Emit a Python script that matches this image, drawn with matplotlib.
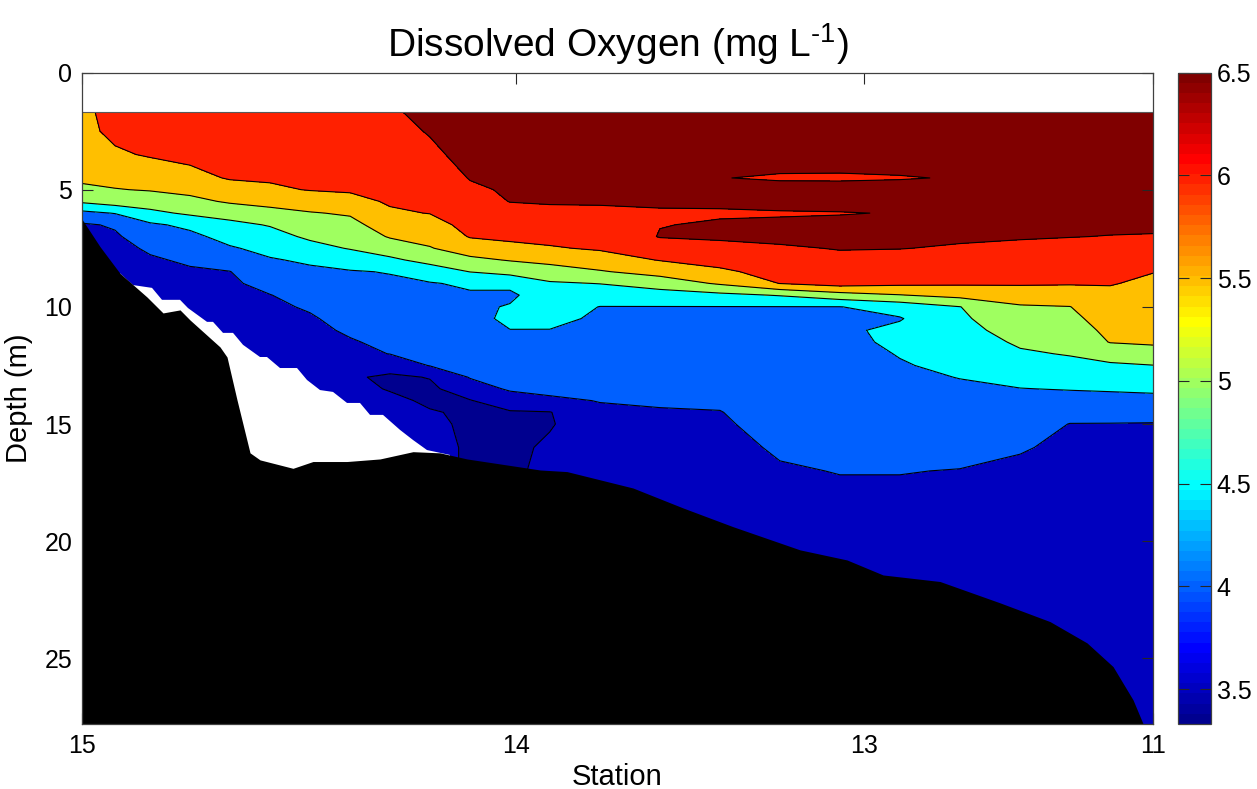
import numpy as np
import matplotlib
matplotlib.use("Agg")
import matplotlib.pyplot as plt
from matplotlib.colors import ListedColormap, Normalize
from matplotlib.cm import ScalarMappable

plt.rcParams['font.family'] = ['Liberation Sans', 'DejaVu Sans']
plt.rcParams['mathtext.fontset'] = 'custom'
plt.rcParams['mathtext.rm'] = 'Liberation Sans'
plt.rcParams['mathtext.default'] = 'regular'

# ---------------------------------------------------------------- data
# depth of each grid row (m)
depth_m = [1.7, 2.5, 3.5, 4.5, 5.0, 5.5, 6.0, 6.5, 7.0, 7.5, 8.0, 8.5, 9.0, 9.5,
           10.0, 10.5, 11.0, 11.5, 12.0, 12.5, 13.0, 13.5, 14.0, 14.5, 15.0,
           16.0, 17.0, 18.0, 20.0, 23.0, 28.0]

# along-transect distance of each profile (km from station 15)
distance_km = [0.0, 0.77, 1.59, 2.52, 3.45, 4.39, 5.32, 6.26, 7.19, 8.12, 9.06,
               9.99, 10.92, 12.09, 13.49, 14.89, 16.29, 17.69, 19.09, 20.49,
               21.90, 23.06, 24.0, 25.0]

# dissolved oxygen (mg/L), one profile per distance, top to bottom
oxygen = [
    [5.90, 5.88, 5.80, 5.58, 5.41, 5.08, 4.37, 3.94] + [3.80] * 23,
    [6.15, 6.10, 5.94, 5.64, 5.48, 5.25, 4.52, 4.05, 3.94, 3.87, 3.80] + [3.80] * 20,
    [6.30, 6.18, 6.04, 5.72, 5.53, 5.25, 4.88, 4.42, 4.24, 4.06, 3.95, 3.87,
     3.80] + [3.80] * 18,
    [6.35, 6.24, 6.10, 5.88, 5.63, 5.37, 5.08, 4.61, 4.38, 4.21, 4.06, 3.95,
     3.88, 3.80] + [3.80] * 17,
    [6.40, 6.29, 6.16, 6.03, 5.83, 5.56, 5.18, 4.88, 4.67, 4.45, 4.22, 3.99,
     3.93, 3.86, 3.80] + [3.80] * 16,
    [6.42, 6.31, 6.18, 6.05, 5.93, 5.65, 5.35, 5.03, 4.83, 4.64, 4.46, 4.30,
     4.14, 3.99, 3.93, 3.86, 3.80] + [3.80] * 14,
    [6.45, 6.34, 6.21, 6.08, 6.02, 5.75, 5.47, 5.28, 5.08, 4.84, 4.57, 4.41,
     4.28, 4.16, 4.04, 3.96, 3.91, 3.86, 3.80] + [3.80] * 12,
    [6.45, 6.35, 6.23, 6.10, 6.04, 5.89, 5.55, 5.36, 5.20, 5.03, 4.71, 4.47,
     4.38, 4.30, 4.22, 4.13, 4.05, 3.97, 3.88, 3.72, 3.56, 3.63, 3.67, 3.66,
     3.65, 3.65, 3.65, 3.65, 3.65, 3.65, 3.65],
    [6.45, 6.36, 6.26, 6.15, 6.10, 6.04, 5.95, 5.74, 5.54, 5.24, 4.91, 4.52,
     4.43, 4.36, 4.29, 4.22, 4.15, 4.08, 4.01, 3.70, 3.42, 3.47, 3.60, 3.70,
     3.75, 3.75, 3.75, 3.75, 3.75, 3.75, 3.75],
    [6.60, 6.53, 6.41, 6.25, 6.17, 6.09, 6.01, 5.84, 5.66, 5.47, 5.15, 4.75,
     4.47, 4.41, 4.34, 4.28, 4.21, 4.15, 4.09, 4.02, 3.52, 3.41, 3.43, 3.53,
     3.62, 3.75, 3.75, 3.75, 3.75, 3.75, 3.75],
    [6.85, 6.76, 6.64, 6.52, 6.43, 6.33, 6.23, 6.13, 6.03, 5.75, 5.39, 5.01,
     4.57, 4.45, 4.39, 4.33, 4.27, 4.21, 4.15, 4.09, 4.03, 3.76, 3.48, 3.44,
     3.40, 3.40, 3.40, 3.40, 3.40, 3.40, 3.40],
    [6.90, 6.82, 6.71, 6.61, 6.55, 6.51, 6.37, 6.23, 6.09, 5.88, 5.53, 5.14,
     4.64, 4.40, 4.54, 4.61, 4.49, 4.40, 4.32, 4.23, 4.14, 4.06, 3.75, 3.46,
     3.41, 3.35, 3.35, 3.35, 3.35, 3.35, 3.35],
    [6.95, 6.86, 6.75, 6.64, 6.58, 6.53, 6.42, 6.27, 6.13, 5.96, 5.65, 5.26,
     4.95, 4.83, 4.72, 4.60, 4.49, 4.41, 4.32, 4.24, 4.16, 4.07, 3.95, 3.48,
     3.45, 3.60, 3.70, 3.70, 3.70, 3.70, 3.70],
    [6.95, 6.86, 6.75, 6.64, 6.59, 6.53, 6.44, 6.31, 6.18, 6.05, 5.79, 5.46,
     5.01, 4.75, 4.49, 4.44, 4.38, 4.32, 4.25, 4.19, 4.13, 4.07, 4.01, 3.95,
     3.90, 3.82, 3.78, 3.78, 3.78, 3.78, 3.78],
    [7.00, 6.90, 6.78, 6.66, 6.60, 6.54, 6.47, 6.49, 6.52, 6.30, 6.02, 5.68,
     5.22, 4.79, 4.49, 4.43, 4.38, 4.32, 4.26, 4.20, 4.15, 4.09, 4.03, 3.98,
     3.95, 3.88, 3.80, 3.80, 3.80, 3.80, 3.80],
    [7.00, 6.91, 6.79, 6.52, 6.61, 6.55, 6.47, 6.53, 6.56, 6.38, 6.16, 5.92,
     5.56, 4.88, 4.49, 4.44, 4.38, 4.33, 4.27, 4.22, 4.16, 4.11, 4.05, 3.99,
     3.96, 3.90, 3.85, 3.80, 3.80, 3.80, 3.80],
    [7.00, 6.95, 6.85, 6.42, 6.75, 6.62, 6.47, 6.56, 6.60, 6.45, 6.31, 6.16,
     6.01, 5.03, 4.49, 4.46, 4.42, 4.38, 4.34, 4.30, 4.26, 4.23, 4.19, 4.15,
     4.11, 4.04, 3.97, 3.92, 3.85, 3.80, 3.80],
    [7.00, 6.95, 6.88, 6.40, 6.78, 6.66, 6.48, 6.60, 6.62, 6.52, 6.40, 6.30,
     6.20, 5.30, 4.49, 4.46, 4.42, 4.39, 4.35, 4.32, 4.28, 4.25, 4.21, 4.18,
     4.15, 4.08, 4.01, 3.95, 3.88, 3.80, 3.80],
    [7.00, 6.95, 6.90, 6.45, 6.80, 6.75, 6.52, 6.68, 6.60, 6.51, 6.36, 6.21,
     6.10, 5.48, 4.68, 4.47, 4.60, 4.58, 4.52, 4.47, 4.42, 4.37, 4.32, 4.27,
     4.21, 4.11, 4.01, 3.95, 3.88, 3.80, 3.80],
    [7.00, 6.95, 6.92, 6.55, 6.80, 6.75, 6.70, 6.63, 6.56, 6.46, 6.33, 6.19,
     6.06, 5.65, 4.99, 4.92, 4.84, 4.75, 4.67, 4.59, 4.51, 4.44, 4.37, 4.30,
     4.24, 4.10, 3.99, 3.95, 3.88, 3.82, 3.82],
    [7.00, 6.95, 6.90, 6.85, 6.80, 6.75, 6.68, 6.60, 6.53, 6.42, 6.29, 6.17,
     6.05, 5.75, 5.45, 5.32, 5.20, 5.07, 4.94, 4.78, 4.63, 4.49, 4.39, 4.30,
     4.21, 4.02, 3.95, 3.92, 3.88, 3.82, 3.82],
    [7.00, 6.95, 6.90, 6.83, 6.78, 6.72, 6.65, 6.58, 6.51, 6.38, 6.27, 6.15,
     6.03, 5.79, 5.49, 5.38, 5.26, 5.15, 5.03, 4.87, 4.70, 4.52, 4.35, 4.17,
     3.99, 3.95, 3.92, 3.90, 3.87, 3.82, 3.82],
    [7.00, 6.95, 6.90, 6.83, 6.78, 6.72, 6.64, 6.57, 6.49, 6.38, 6.26, 6.14,
     6.02, 5.92, 5.82, 5.72, 5.62, 5.52, 5.21, 4.93, 4.74, 4.55, 4.34, 4.13,
     3.99, 3.96, 3.94, 3.92, 3.89, 3.85, 3.85],
    [7.00, 6.96, 6.90, 6.82, 6.77, 6.71, 6.64, 6.56, 6.48, 6.32, 6.17, 6.01,
     5.93, 5.85, 5.78, 5.70, 5.62, 5.55, 5.36, 4.99, 4.79, 4.59, 4.35, 4.08,
     3.99, 3.96, 3.94, 3.92, 3.89, 3.87, 3.85],
]

# contour levels (mg/L) and colour-axis limits
do_levels = [3.0, 3.5, 4.0, 4.5, 5.0, 5.5, 6.0, 6.5, 7.5]
do_min, do_max = 3.33, 6.5
cbar_ticks = [3.5, 4.0, 4.5, 5.0, 5.5, 6.0, 6.5]
cbar_labels = ['3.5', '4', '4.5', '5', '5.5', '6', '6.5']

# seafloor along the transect
bottom_km = [0.0, 0.42, 0.887, 1.517, 1.891, 2.288, 2.521, 3.221, 3.385, 3.618,
             3.922, 4.155, 4.925, 5.392, 6.186, 6.956, 7.726, 8.357, 8.987,
             10.691, 11.321, 12.862, 14.029, 15.196, 16.76, 17.857, 18.698,
             20.028, 21.429, 22.596, 23.46, 24.067, 24.534, 24.768]
bottom_depth = [6.26, 7.43, 8.57, 9.58, 10.26, 10.13, 10.56, 11.71, 12.14, 13.97,
                16.23, 16.53, 16.89, 16.60, 16.60, 16.49, 16.18, 16.23, 16.49,
                16.96, 17.03, 17.73, 18.58, 19.38, 20.37, 20.80, 21.44, 21.72,
                22.63, 23.43, 24.34, 25.35, 26.77, 27.79]

# deepest sampled depth where the casts stop short of the bottom
gap_km = [0.887, 1.19, 1.634, 1.867, 2.288, 2.474, 2.918, 3.058, 3.291, 3.525,
          3.758, 4.155, 4.318, 4.622, 5.019, 5.252, 5.556, 5.859, 6.186, 6.489,
          6.723, 7.026, 7.423, 7.726, 8.053, 8.59]
gap_depth = [8.57, 9.07, 9.19, 9.70, 9.70, 10.05, 10.64, 10.64, 11.11, 11.11,
             11.62, 12.14, 12.14, 12.61, 12.61, 13.12, 13.55, 13.63, 14.10, 14.10,
             14.61, 14.61, 15.25, 15.68, 16.11, 16.32]

# station markers along the transect
station_km = [0.0, 10.13, 18.25, 25.0]
station_names = ['15', '14', '13', '11']
depth_ticks = [0, 5, 10, 15, 20, 25]


# ---------------------------------------------------------------- colours
def jet64(m=64):
    """Classic 64-entry jet table."""
    n = int(np.ceil(m / 4))
    u = np.r_[np.arange(1, n + 1) / n, np.ones(n - 1), np.arange(n, 0, -1) / n]
    g = int(np.ceil(n / 2)) - (1 if m % 4 == 1 else 0) + np.arange(1, len(u) + 1)
    r = g + n
    b = g - n
    J = np.zeros((m, 3))
    J[r[r <= m] - 1, 0] = u[r <= m]
    J[g[(g >= 1) & (g <= m)] - 1, 1] = u[(g >= 1) & (g <= m)]
    J[b[b >= 1] - 1, 2] = u[b >= 1]
    return J


jet = jet64()
cmap = ListedColormap(jet)


def level_colour(v):
    idx = int((v - do_min) / (do_max - do_min) * len(jet))
    return jet[min(max(idx, 0), len(jet) - 1)]


band_colours = [level_colour(max(lv, do_min)) for lv in do_levels[:-1]]

# ---------------------------------------------------------------- figure
W, H = 1257, 789
fig = plt.figure(figsize=(W / 100, H / 100), dpi=100)
ax = fig.add_axes([82 / W, 65 / H, 1071 / W, 651.5 / H])
cax = fig.add_axes([1178 / W, 65 / H, 33 / W, 651.5 / H])

Z = np.array(oxygen).T
ax.contourf(distance_km, depth_m, Z, levels=do_levels, colors=band_colours,
            zorder=1)
ax.contour(distance_km, depth_m, Z, levels=do_levels[1:-1], colors='k',
           linewidths=0.8, zorder=2)
ax.axhline(depth_m[0], color='0.35', lw=0.8, zorder=2)

# unsampled water between the last sample and the seafloor
ax.fill(list(gap_km) + [gap_km[-1], gap_km[0]],
        list(gap_depth) + [30, 30], color='white', lw=0, zorder=3)
# seafloor
ax.fill_between(bottom_km, bottom_depth, 30, color='black', lw=0, zorder=4)

ax.set_xlim(distance_km[0], distance_km[-1])
ax.set_ylim(27.8, 0)
ax.set_xticks(station_km, station_names)
ax.set_yticks(depth_ticks)
ax.tick_params(direction='in', top=True, right=True, length=8, width=0.8,
               labelsize=18, pad=7, colors='0.15', labelcolor='black')
for s in ax.spines.values():
    s.set_color('0.25')
    s.set_linewidth(0.9)
    s.set_zorder(6)
ax.set_xlabel('Station', fontsize=21, labelpad=4)
ax.set_ylabel('Depth (m)', fontsize=21, labelpad=8)
ax.set_title(r'Dissolved Oxygen (mg L$^{\text{-1}}$)', fontsize=28, pad=11)

sm = ScalarMappable(norm=Normalize(do_min, do_max), cmap=cmap)
cb = fig.colorbar(sm, cax=cax, ticks=cbar_ticks)
cb.set_ticklabels(cbar_labels)
cb.ax.tick_params(direction='in', left=True, right=True, length=8, width=0.8,
                  labelsize=18, pad=4, colors='0.15', labelcolor='black')
cb.outline.set_edgecolor('0.25')
cb.outline.set_linewidth(0.9)

fig.savefig('out.png', dpi=100)
